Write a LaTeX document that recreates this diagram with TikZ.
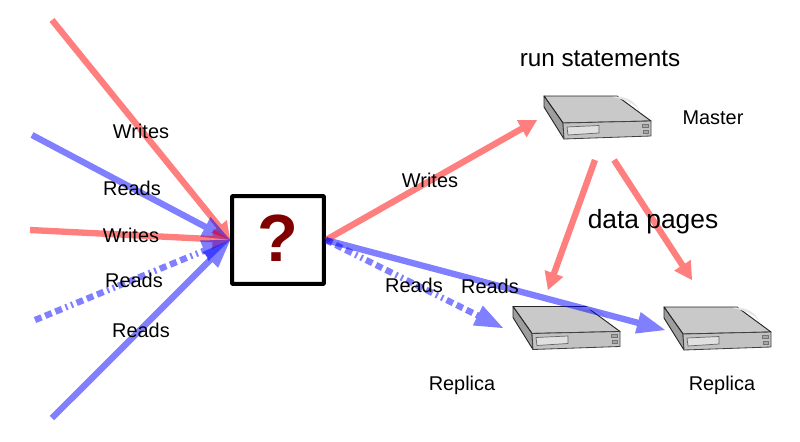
\documentclass[tikz,border=0pt]{standalone}
\usepackage{fontspec}
\setmainfont{Liberation Sans}
\usetikzlibrary{arrows.meta}
\tikzset{
	writearrow/.style={draw=red,opacity=0.5,line width=5.4pt,-{Triangle[length=15pt,width=17pt,line width=0pt]}},
	readarrow/.style={draw=blue,opacity=0.5,line width=5.4pt,-{Triangle[length=24pt,width=19pt,line width=0pt]}},
	readdash/.style={readarrow,dash pattern=on 6pt off 3.4pt on 6pt off 3.4pt on 6pt off 3.4pt on 1.7pt off 3.4pt on 1.7pt off 3.4pt},
	lbl/.style={font=\fontsize{17}{20}\selectfont,inner sep=0pt},
	biglbl/.style={inner sep=0pt},
	serverbox/.pic={
		\draw[fill=black!21,draw=black!85,line width=0.8pt,line join=round] (0,0) -- (73,0) -- (107,25) -- (19,27) -- cycle;% top
		\fill[black!10] (73,0.5) .. controls (84,1) and (92,6) .. (97,17) .. controls (93,9) and (84,4) .. (68,1) -- cycle;% sheen
		\draw[fill=black!38,draw=black!85,line width=0.8pt,line join=round] (0,0) -- (19,27) -- (20,43) -- (0,11) -- cycle;% left side
		\draw[fill=black!24,draw=black!75,line width=0.7pt,line join=round] (19,27) -- (107,25) -- (107,40) -- (20,43) -- cycle;% front
		\draw[fill=black!12,draw=black!60,line width=0.6pt] (23,31) -- (55,29.5) -- (55,37) -- (24,39) -- cycle;% slot
		\draw[fill=black!35,draw=black!55,line width=0.4pt] (98,28) rectangle (104,31);% upper button
		\draw[fill=black!35,draw=black!55,line width=0.4pt] (99.5,34) rectangle (104,37);% lower button
	}
}
\begin{document}
\begin{tikzpicture}[x=0.03cm,y=-0.03cm]
	\useasboundingbox (0,0) rectangle (800,441);

	% servers
	\pic at (544,96) {serverbox};% master
	\pic at (513,306.5) {serverbox};% left replica
	\pic at (664,307) {serverbox};% right replica

	% free ends of the arrows
	\coordinate (writeA) at (52,20);
	\coordinate (readA) at (32,135);
	\coordinate (writeB) at (30,230);
	\coordinate (readB) at (35,320);
	\coordinate (readC) at (52,418);
	\coordinate (mastertip) at (537,120);
	\coordinate (replicaL) at (503,328);
	\coordinate (replicaR) at (665,330);
	\coordinate (pagesAstart) at (595,160);
	\coordinate (pagesAtip) at (548,290);
	\coordinate (pagesBstart) at (614,160);
	\coordinate (pagesBtip) at (692,280);

	\node[draw,fill=white,line width=3.4pt,rounded corners=0.5pt,minimum width=78.2pt,minimum height=74.8pt,inner sep=0pt] (router) at (278,240) {};

	% incoming
	\draw[writearrow] (writeA) -- (router.west);
	\draw[readarrow] (readA) -- (router.west);
	\draw[writearrow] (writeB) -- (router.west);
	\draw[readdash] (readB) -- (router.west);
	\draw[readarrow] (readC) -- (router.west);

	% outgoing
	\draw[writearrow] (router.east) -- (mastertip);
	\draw[readarrow] (router.east) -- (replicaR);
	\draw[readdash] (router.east) -- (replicaL);
	\draw[writearrow] (pagesAstart) -- (pagesAtip);
	\draw[writearrow] (pagesBstart) -- (pagesBtip);

	\node[font=\fontsize{57}{60}\selectfont\bfseries,text=red!50!black,inner sep=0pt] (mark) at (278,238) {?};

	% labels
	\node[lbl] (lblwriteA) at (141,131) {Writes};
	\node[lbl] (lblreadA) at (132,188) {Reads};
	\node[lbl] (lblwriteB) at (131,235) {Writes};
	\node[lbl] (lblreadB) at (134,280) {Reads};
	\node[lbl] (lblreadC) at (141,330) {Reads};
	\node[lbl] (lblwriteC) at (430,180) {Writes};
	\node[lbl] (lblreadD) at (414,285) {Reads};
	\node[lbl] (lblreadE) at (490,286) {Reads};
	\node[lbl] (lblmaster) at (713,118) {Master};
	\node[lbl] (lblreplicaL) at (462,385) {Replica};
	\node[lbl] (lblreplicaR) at (722,385) {Replica};
	\node[biglbl,font=\fontsize{20.7}{24}\selectfont] (lblrun) at (600,59) {run statements};
	\node[biglbl,font=\fontsize{22.5}{26}\selectfont] (lblpages) at (653,222) {data pages};
\end{tikzpicture}
\end{document}
